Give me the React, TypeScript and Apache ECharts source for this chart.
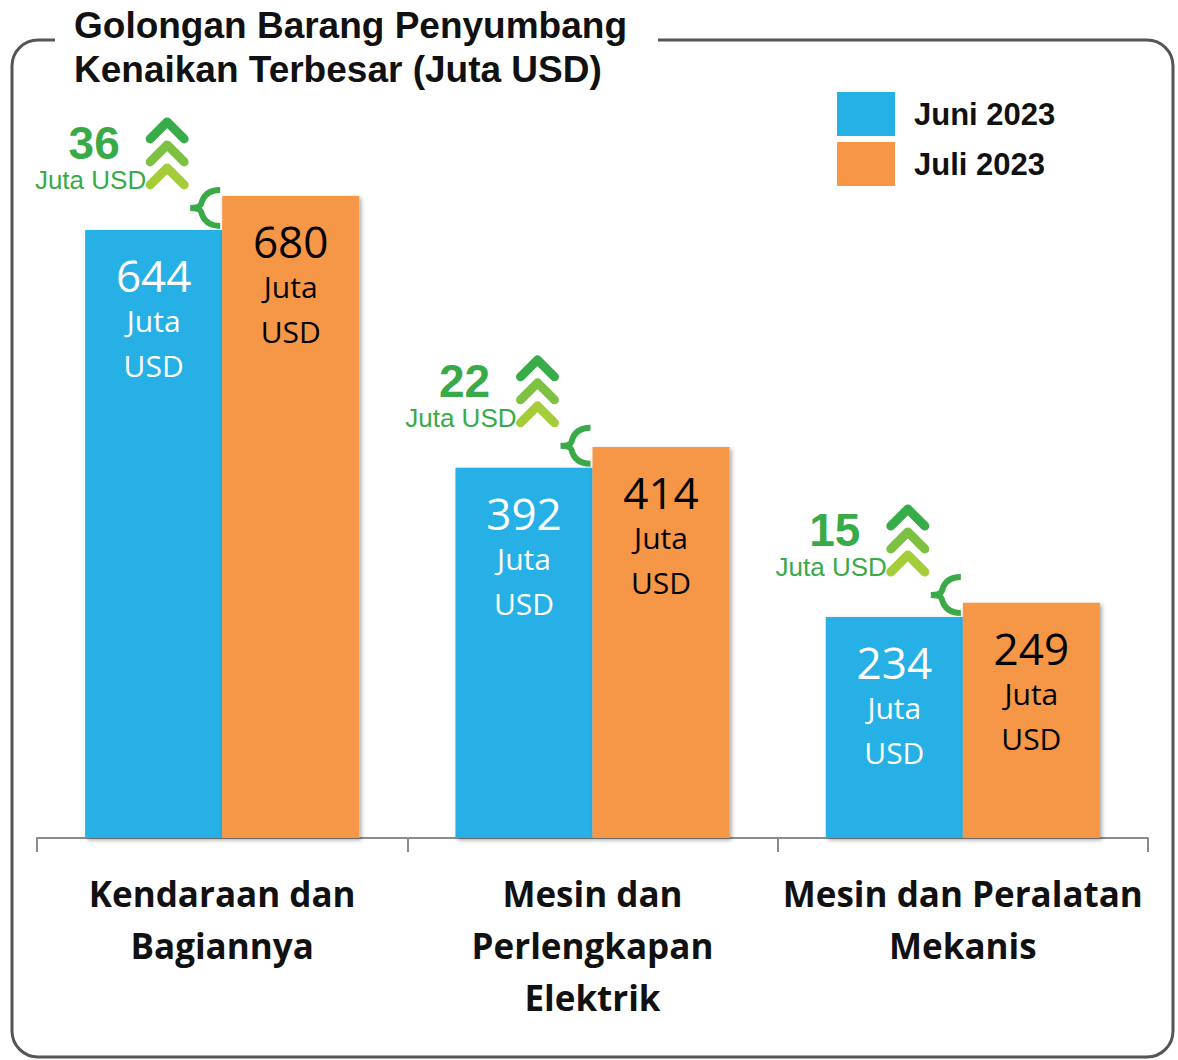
import React, { useEffect, useRef } from "react";
import * as echarts from "echarts";

const categories = ["Kendaraan dan\nBagiannya", "Mesin dan\nPerlengkapan\nElektrik", "Mesin dan Peralatan\nMekanis"];
const juni2023 = [644, 392, 234];
const juli2023 = [680, 414, 249];
const kenaikan = [36, 22, 15];
const seriesNames = ["Juni 2023", "Juli 2023"];
const titleLines = ["Golongan Barang Penyumbang", "Kenaikan Terbesar (Juta USD)"];

const BLUE = "#25b0e6";
const ORANGE = "#f69646";
const GREEN = "#3aaa48";
const CHEV = ["#39ac4a", "#7cc142", "#a5cd39"];

echarts.graphic.registerShape(
  "brace",
  echarts.graphic.extendPath("M32 2 C20 2 15 8 13 16 C12 19 8 20 2 20 C8 20 12 21 13 24 C15 32 20 38 32 38", {})
);

export default function App() {
  const ref = useRef<HTMLDivElement>(null);
  useEffect(() => {
    const chart = echarts.init(ref.current!, null, { renderer: "svg" });
    const labelRich = (color: string) => ({
      show: true,
      position: "insideTop",
      distance: 22,
      color,
      fontFamily: "Open Sans",
      formatter: (p: any) => `{v|${p.value}}\n{u|Juta}\n{u|USD}`,
      rich: {
        v: { fontSize: 44, lineHeight: 46, color, fontFamily: "Open Sans" },
        u: { fontSize: 30, lineHeight: 45, color, fontFamily: "Open Sans" },
      },
    });
    const shadow = { shadowBlur: 4, shadowColor: "rgba(0,0,0,0.35)", shadowOffsetX: 2, shadowOffsetY: 2 };
    chart.setOption({
      animation: false,
      title: {
        text: titleLines.join("\n"),
        left: 74,
        top: 3,
        padding: 0,
        textStyle: { fontSize: 37, fontWeight: "bold", fontFamily: "Liberation Sans", color: "#111", lineHeight: 44 },
      },
      legend: {
        orient: "vertical",
        left: 837,
        top: 92,
        padding: 0,
        itemWidth: 58,
        itemHeight: 44,
        itemGap: 6,
        icon: "rect",
        data: seriesNames,
        textStyle: { fontSize: 31, fontWeight: "bold", fontFamily: "Liberation Sans", color: "#111", padding: [0, 0, 0, 14] },
      },
      grid: { left: 37, right: 30, top: 177, bottom: 222 },
      xAxis: {
        type: "category",
        data: categories,
        axisLine: { lineStyle: { color: "#8c8c8c", width: 2 } },
        axisTick: { show: true, length: 14, lineStyle: { color: "#8c8c8c", width: 2 } },
        axisLabel: { interval: 0, margin: 29, fontSize: 35, fontWeight: "bold", fontFamily: "Open Sans", color: "#111", lineHeight: 52 },
      },
      yAxis: { type: "value", min: 0, max: 700, show: false, splitLine: { show: false } },
      series: [
        {
          name: seriesNames[0],
          type: "bar",
          data: juni2023,
          barGap: "0%",
          barCategoryGap: "26%",
          itemStyle: { color: BLUE, ...shadow },
          label: labelRich("#ffffff"),
          z: 3,
        },
        {
          name: seriesNames[1],
          type: "bar",
          data: juli2023,
          itemStyle: { color: ORANGE, ...shadow },
          label: labelRich("#000000"),
          z: 3,
        },
      ],
    });

    const graphics: any[] = [
      { type: "rect", z: 0, shape: { x: 12, y: 40, width: 1161, height: 1017, r: 26 }, style: { fill: "none", stroke: "#555", lineWidth: 3 } },
      { type: "rect", z: 1, shape: { x: 55, y: 30, width: 603, height: 20 }, style: { fill: "#fff" } },
    ];
    categories.forEach((_, i) => {
      const [cx, yB] = chart.convertToPixel({ gridIndex: 0 }, [i, juni2023[i]]) as number[];
      graphics.push({
        type: "brace",
        x: cx - 34,
        y: yB - 42,
        z: 10,
        style: { fill: "none", stroke: GREEN, lineWidth: 6 },
      });
      const chevX = cx - 55;
      const bottomApex = yB - 62;
      [2, 1, 0].forEach((k) => {
        const ay = bottomApex - (2 - k) * 23;
        graphics.push({
          type: "polyline",
          z: 10 + (2 - k),
          shape: { points: [[chevX - 17, ay + 17], [chevX, ay], [chevX + 17, ay + 17]] },
          style: { fill: "none", stroke: CHEV[k], lineWidth: 9, lineCap: "round", lineJoin: "round" },
        });
      });
      graphics.push({
        type: "text",
        z: 10,
        x: cx - 128,
        y: yB - 87,
        style: { text: String(kenaikan[i]), fill: GREEN, fontSize: 46, fontWeight: "bold", fontFamily: "Liberation Sans", align: "center", verticalAlign: "middle" },
      });
      graphics.push({
        type: "text",
        z: 10,
        x: cx - 76,
        y: yB - 50,
        style: { text: "Juta USD", fill: GREEN, fontSize: 26, fontFamily: "Liberation Sans", align: "right", verticalAlign: "middle" },
      });
    });
    chart.setOption({ graphic: graphics });
    return () => chart.dispose();
  }, []);
  return <div ref={ref} style={{ position: "fixed", left: 0, top: 0, width: 1178, height: 1060, background: "#fff" }} />;
}
